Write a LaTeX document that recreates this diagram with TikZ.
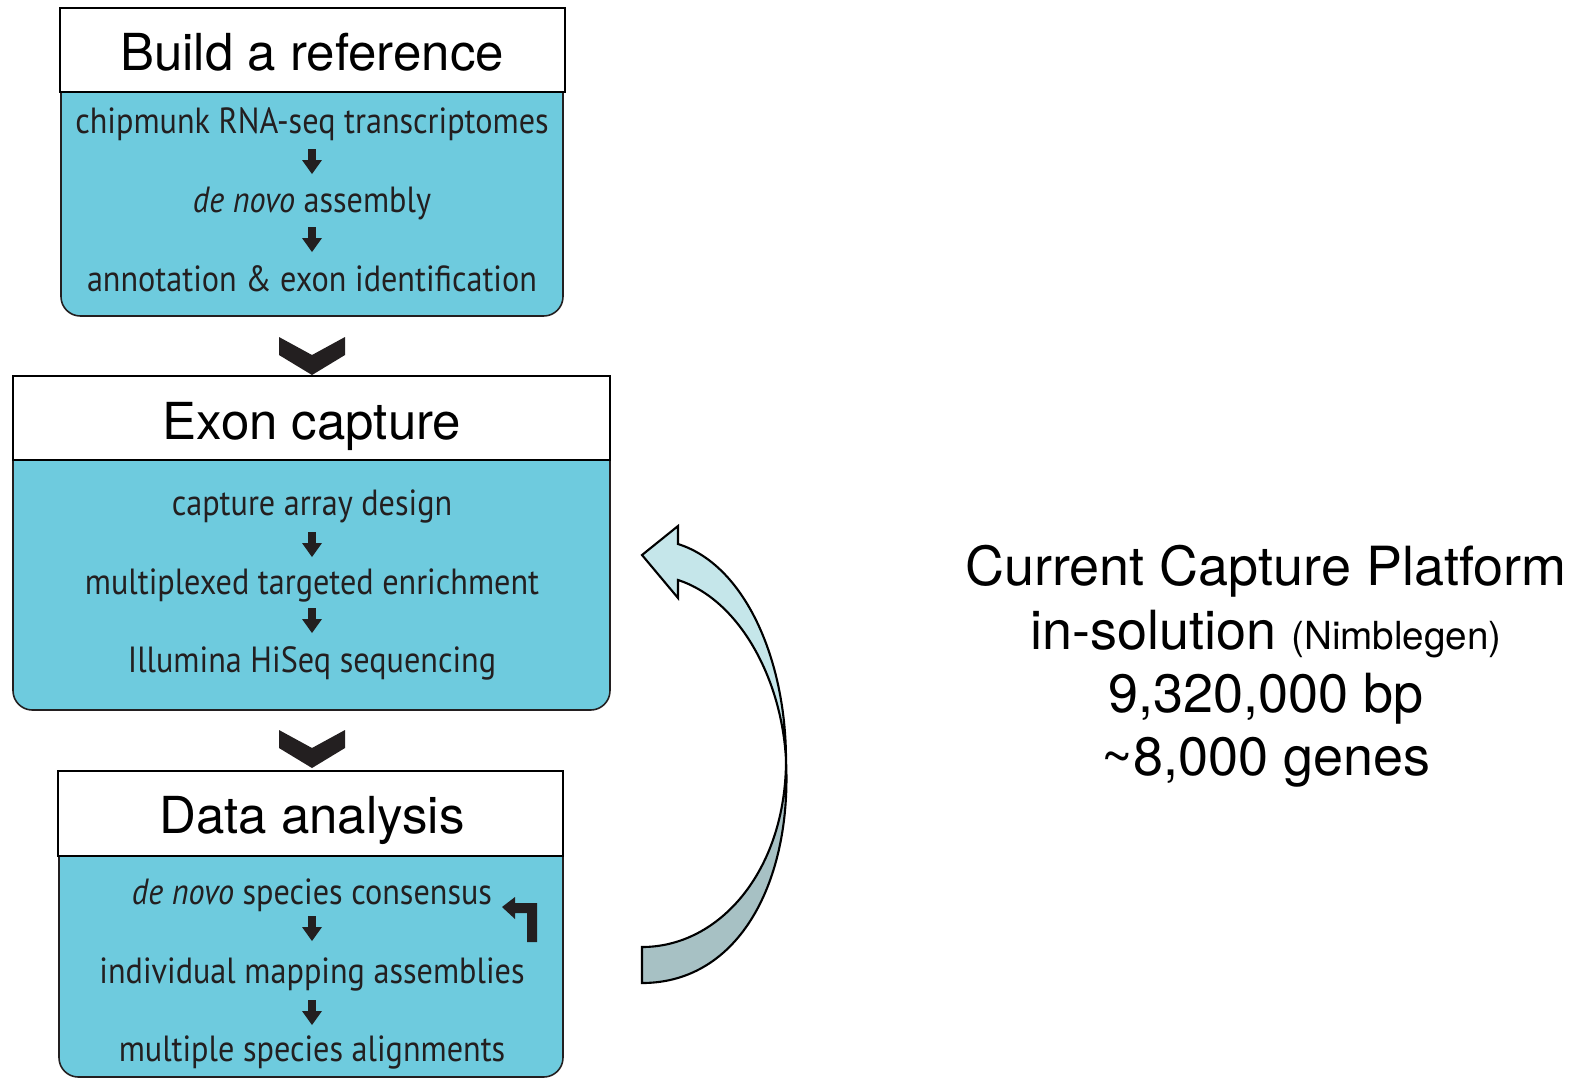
\documentclass[tikz,border=0pt]{standalone}
\usepackage{fontspec}
\setmainfont{PT Sans}[FakeStretch=0.885]
\newfontfamily\headfont{TeX Gyre Heros}
\definecolor{txt}{HTML}{231F20}
\definecolor{cyanbox}{HTML}{6ECBDE}
\definecolor{lightband}{HTML}{C5E6EA}
\definecolor{darkband}{HTML}{A7C1C4}
\newcommand\dnarrow[2]{\fill[txt, shift={(#1,#2)}] (-3.8,-12) -- (3.8,-12) -- (3.8,-1) -- (10,-1) -- (0,13) -- (-10,-1) -- (-3.8,-1) -- cycle;}
\newcommand\chevron[2]{\fill[txt, shift={(#1,#2)}] (-33,0) -- (0,18) -- (33,0) -- (33,18) -- (0,38) -- (-33,18) -- cycle;}
\begin{document}
\begin{tikzpicture}[x=0.01cm,y=-0.01cm,
  body/.style={font=\fontsize{10.35}{12}\selectfont, text=txt, inner sep=0},
  ttl/.style={font=\headfont\fontsize{14.5}{16}\selectfont, inner sep=0},
  big/.style={font=\headfont\fontsize{15.35}{18}\selectfont, inner sep=0},
  panel/.style={fill=cyanbox, draw=txt, line width=0.45pt, rounded corners=5.5pt},
  hdr/.style={fill=white, draw=black, line width=0.6pt}]
\useasboundingbox (0,0) rectangle (1579,1078);
% box 1
\draw[panel] (61,92) -- (61,316) -- (563,316) -- (563,92);
\draw[hdr] (60,8) rectangle (565,92);
\node[ttl] (t1) at (312,52) {Build a reference};
\node[body] (a1) at (312,124) {chipmunk RNA-seq transcriptomes};
\node[body] (a2) at (312,203) {\textit{de novo} assembly};
\node[body] (a3) at (312,279) {annotation \& exon identification};
\dnarrow{312}{161}
\dnarrow{312}{239}
\chevron{312}{337}
% box 2
\draw[panel] (13,460) -- (13,710) -- (610,710) -- (610,460);
\draw[hdr] (13,376) rectangle (610,460);
\node[ttl] (t2) at (312,426) {Exon capture};
\node[body] (b1) at (312,506) {capture array design};
\node[body] (b2) at (312,585) {multiplexed targeted enrichment};
\node[body] (b3) at (312,663) {Illumina HiSeq sequencing};
\dnarrow{312}{544}
\dnarrow{312}{620}
\chevron{312}{730}
% box 3
\draw[panel] (59,856) -- (59,1077) -- (563,1077) -- (563,856);
\draw[hdr] (58,771) rectangle (563,856);
\node[ttl] (t3) at (312,820) {Data analysis};
\node[body] (c1) at (312,895) {\textit{de novo} species consensus};
\node[body] (c2) at (312,974) {individual mapping assemblies};
\node[body] (c3) at (312,1052) {multiple species alignments};
\dnarrow{312}{928}
\dnarrow{312}{1012}
\fill[txt] (537,942) -- (527,942) -- (527,913) -- (515,913) -- (515,919) -- (502,907) -- (515,897) -- (515,903) -- (537,903) -- cycle;
% curved arrow
\draw[line width=0.6pt, fill=lightband] (678,544) .. controls (745,565) and (786,660) .. (786,760) .. controls (782,680) and (740,600) .. (678,580) -- (678,598) -- (642,555) -- (678,526) -- cycle;
\draw[line width=0.6pt, fill=darkband] (786,760) .. controls (786,870) and (720,947) .. (642,947) -- (642,983) .. controls (740,983) and (792,880) .. (786,760) -- cycle;
% right text
\node[big] (p1) at (1266,571) {Current Capture Platform};
\node[big] (p2) at (1266,634) {in-solution {\fontsize{11}{13}\selectfont(Nimblegen)}};
\node[big] (p3) at (1266,699) {9,320,000 bp};
\node[big] (p4) at (1266,762) {\textasciitilde 8,000 genes};
\end{tikzpicture}
\end{document}
